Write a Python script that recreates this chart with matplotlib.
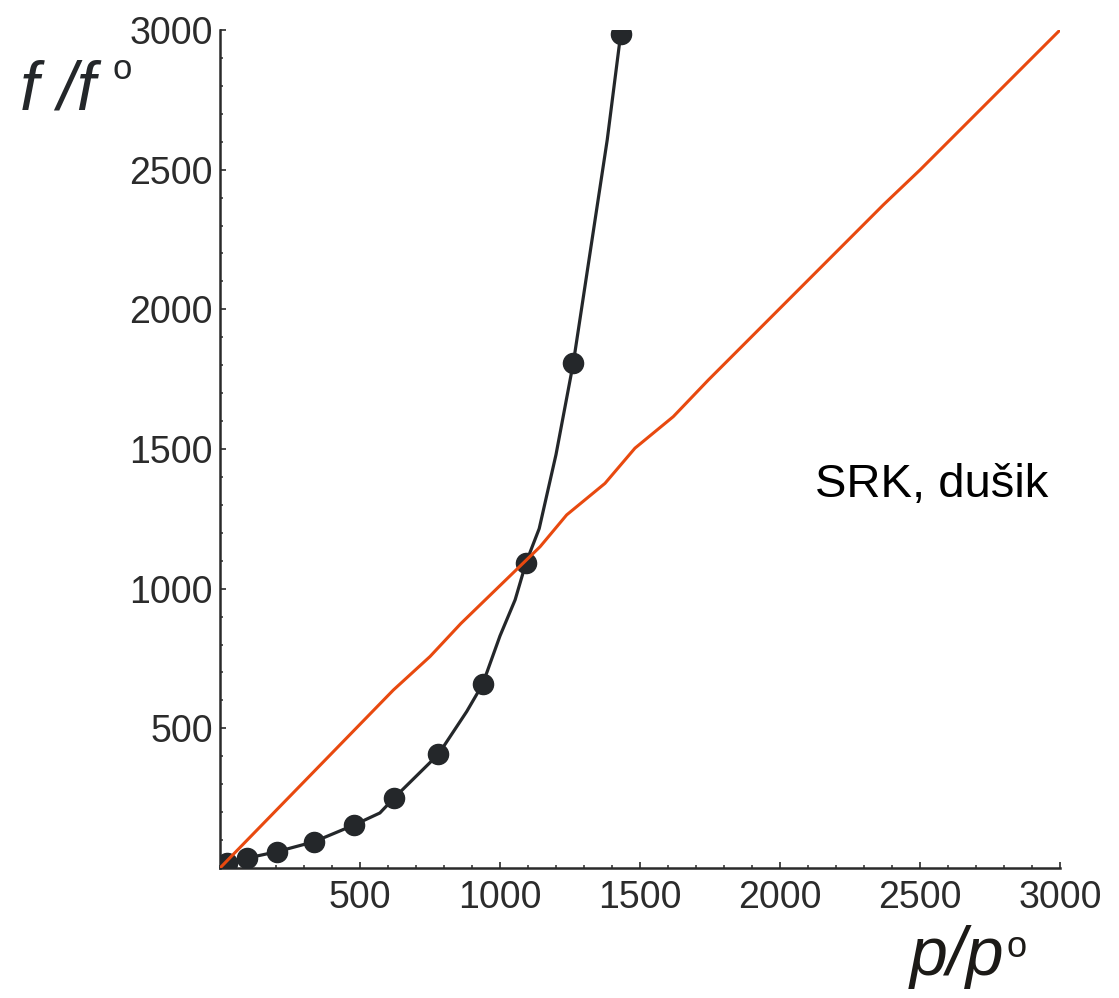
import matplotlib
matplotlib.use("Agg")
import matplotlib.pyplot as plt
from matplotlib.ticker import MultipleLocator, FixedLocator

plt.rcParams['font.family'] = ['Liberation Sans', 'DejaVu Sans']

# SRK fugacity curve for nitrogen (line vertices and computed points)
p_curve = [24, 95, 202, 336, 479, 571, 623, 780, 881, 938, 1000, 1054, 1093,
           1140, 1200, 1262, 1383, 1431]
f_curve = [17, 35, 58, 94, 154, 197, 252, 407, 560, 658, 831, 960, 1093,
           1215, 1480, 1809, 2607, 2985]
p_points = [24, 95, 202, 336, 479, 623, 780, 938, 1093, 1262, 1431]
f_points = [17, 35, 58, 94, 154, 252, 407, 658, 1093, 1809, 2985]

# ideal-gas reference (f = p)
p_ideal = [0, 619, 750, 860, 1143, 1238, 1375, 1482, 1619, 1744, 2369, 2500, 3000]
f_ideal = [0, 637, 757, 875, 1150, 1264, 1377, 1503, 1616, 1747, 2374, 2499, 3000]

tick_values = [500, 1000, 1500, 2000, 2500, 3000]
tick_labels = ["500", "1000", "1500", "2000", "2500", "3000"]

W, H = 1119, 998
fig = plt.figure(figsize=(W / 100, H / 100), dpi=100)
ax = fig.add_axes([220 / W, 1 - 868 / H, 840 / W, 838 / H])

dark = '#24272a'
orange = '#e8490f'

ax.plot(p_curve, f_curve, color=dark, lw=2.3, zorder=2)
ax.plot(p_points, f_points, 'o', color=dark, ms=14.5, zorder=3)
ax.plot(p_ideal, f_ideal, color=orange, lw=2.2, zorder=4)

ax.set_xlim(0, 3000)
ax.set_ylim(0, 3000)

for s in ('top', 'right'):
    ax.spines[s].set_visible(False)
for s in ('left', 'bottom'):
    ax.spines[s].set_linewidth(1.8)
    ax.spines[s].set_color('#2a2a2a')

ax.xaxis.set_major_locator(FixedLocator(tick_values))
ax.yaxis.set_major_locator(FixedLocator(tick_values))
ax.set_xticklabels(tick_labels)
ax.set_yticklabels(tick_labels)
ax.xaxis.set_minor_locator(MultipleLocator(100))
ax.yaxis.set_minor_locator(MultipleLocator(100))
ax.tick_params(which='major', direction='in', length=4, width=1.2,
               color='#2a2a2a', labelsize=27, labelcolor='#2b2b2b')
ax.tick_params(which='minor', direction='in', length=2.5, width=1.1,
               color='#2a2a2a')
ax.tick_params(axis='x', which='major', pad=9)
ax.tick_params(axis='y', which='major', pad=5)

ax.text(2543, 1371, "SRK, dušik", fontsize=34, color='black',
        ha='center', va='center')

# axis labels, with a raised small "o" as the standard-state mark
fig.text(20 / W, 1 - 110 / H, "f /f", fontsize=49, fontstyle='italic',
         color=dark, ha='left', va='baseline')
fig.text(112 / W, 1 - 79 / H, "o", fontsize=25, color=dark,
         ha='left', va='baseline')
fig.text(910 / W, 1 - 975 / H, "p/p", fontsize=49, fontstyle='italic',
         color='#1c1a17', ha='left', va='baseline')
fig.text(1006 / W, 1 - 957 / H, "o", fontsize=26, color='#1c1a17',
         ha='left', va='baseline')

fig.savefig("out.png", dpi=100)
